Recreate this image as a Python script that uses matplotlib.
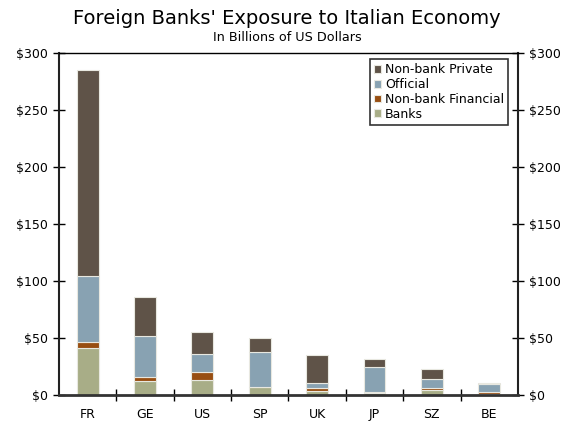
import matplotlib.pyplot as plt
import numpy as np
from matplotlib.ticker import FuncFormatter, FixedLocator

countries = ["FR", "GE", "US", "SP", "UK", "JP", "SZ", "BE"]
banks = [40.5, 11.7, 13.0, 6.5, 3.5, 1.5, 4.0, 0.5]
nonbank_fin = [5.5, 3.5, 6.5, 0.3, 2.0, 1.0, 2.0, 1.5]
official = [58.0, 36.5, 16.5, 31.0, 4.5, 22.0, 7.5, 7.0]
nonbank_priv = [181.0, 34.0, 19.0, 11.5, 25.0, 7.0, 8.5, 1.5]

fig = plt.figure(figsize=(5.71, 4.33), dpi=100)
ax = fig.add_axes([0.1033, 0.0889, 0.8037, 0.7881])

x = np.arange(len(countries))
w = 0.38
edge = dict(edgecolor="#e8e8e0", linewidth=0.8)

b1 = ax.bar(x, banks, w, color="#a8ad87", label="Banks", **edge)
bottom = np.array(banks)
b2 = ax.bar(x, nonbank_fin, w, bottom=bottom, color="#984e12", label="Non-bank Financial", **edge)
bottom = bottom + np.array(nonbank_fin)
b3 = ax.bar(x, official, w, bottom=bottom, color="#88a2b2", label="Official", **edge)
bottom = bottom + np.array(official)
b4 = ax.bar(x, nonbank_priv, w, bottom=bottom, color="#5f5348", label="Non-bank Private", **edge)

ax.set_xlim(-0.5, len(countries) - 0.5)
ax.set_ylim(0, 300)
ax.set_yticks(np.arange(0, 301, 50))
ax.yaxis.set_major_formatter(FuncFormatter(lambda v, p: "$%d" % v))
ax.tick_params(axis="y", direction="inout", length=8, width=1, labelsize=9,
               right=True, labelright=True, pad=4)

ax.set_xticks(x)
ax.set_xticklabels(countries, fontsize=9)
ax.xaxis.set_minor_locator(FixedLocator(np.arange(0.5, len(countries) - 0.5, 1)))
ax.tick_params(axis="x", which="major", length=0, pad=10)
ax.tick_params(axis="x", which="minor", direction="inout", length=8, width=1)

for side in ["left", "right"]:
    ax.spines[side].set_linewidth(1.5)
    ax.spines[side].set_color("#222222")
ax.spines["bottom"].set_linewidth(2)
ax.spines["bottom"].set_color("#333333")
ax.spines["top"].set_linewidth(1)

leg = ax.legend(handles=[b4, b3, b2, b1], loc="upper right",
                bbox_to_anchor=(0.978, 0.982), fontsize=9, frameon=True,
                fancybox=False, edgecolor="black", handlelength=0.6,
                handleheight=0.6, handletextpad=0.3, labelspacing=0.15,
                borderpad=0.3, borderaxespad=0)
leg.get_frame().set_linewidth(1.2)

fig.text(0.502, 0.958, "Foreign Banks' Exposure to Italian Economy",
         ha="center", va="center", fontsize=14)
fig.text(0.503, 0.9145, "In Billions of US Dollars",
         ha="center", va="center", fontsize=9.2)

fig.savefig("out.png", dpi=100)
